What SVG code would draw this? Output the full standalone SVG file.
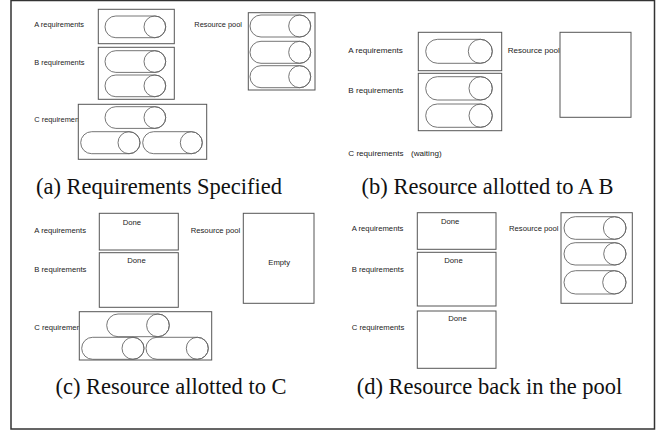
<svg xmlns="http://www.w3.org/2000/svg" width="665" height="431" viewBox="0 0 665 431">
<style>
.frame{fill:#fff;stroke:#333;stroke-width:1.5}
.box{fill:#fff;stroke:#555;stroke-width:1}
.cap{fill:none;stroke:#666;stroke-width:0.9}
.lbl{font-family:"Liberation Sans",Arial,sans-serif;fill:#222}
.cap-t{font-family:"Liberation Serif","Times New Roman",serif;font-size:22.5px;fill:#111;text-anchor:middle}
</style>
<rect x="0" y="0" width="665" height="431" fill="#fff"/>
<rect class="frame" x="11" y="0.5" width="643.5" height="428.5"/>

<!-- (a) -->
<g id="a-panel">
  <g class="lbl" font-size="7.4">
    <text x="34.3" y="27.3">A requirements</text>
    <text x="34.3" y="65">B requirements</text>
    <text x="34.3" y="122.3">C requirements</text>
    <text x="194.3" y="27.3">Resource pool</text>
  </g>
  <g id="a-A">
    <rect class="box" x="98.3" y="9.3" width="76" height="34.4"/>
    <rect class="cap" x="105" y="16" width="60.7" height="21.7" rx="10.85"/><circle class="cap" cx="154.85" cy="26.85" r="10.85"/>
  </g>
  <g id="a-B">
    <rect class="box" x="98.3" y="47.3" width="76" height="52"/>
    <rect class="cap" x="105" y="50.7" width="60.7" height="21.7" rx="10.85"/><circle class="cap" cx="154.85" cy="61.55" r="10.85"/>
    <rect class="cap" x="105" y="75" width="60.7" height="21.7" rx="10.85"/><circle class="cap" cx="154.85" cy="85.85" r="10.85"/>
  </g>
  <g id="a-pool">
    <rect class="box" x="248.3" y="12.7" width="66.7" height="77.3"/>
    <rect class="cap" x="250" y="15" width="60.7" height="22" rx="11"/><circle class="cap" cx="299.7" cy="26" r="11"/>
    <rect class="cap" x="250" y="41.3" width="60.7" height="22" rx="11"/><circle class="cap" cx="299.7" cy="52.3" r="11"/>
    <rect class="cap" x="250" y="65.7" width="60.7" height="22" rx="11"/><circle class="cap" cx="299.7" cy="76.7" r="11"/>
  </g>
  <g id="a-C">
    <rect class="box" x="78.3" y="104.3" width="128.4" height="55"/>
    <rect class="cap" x="105" y="106.7" width="60.7" height="21.7" rx="10.85"/><circle class="cap" cx="154.85" cy="117.55" r="10.85"/>
    <rect class="cap" x="80.7" y="131.7" width="59.3" height="22" rx="11"/><circle class="cap" cx="129" cy="142.7" r="11"/>
    <rect class="cap" x="142.7" y="131.7" width="59.6" height="22" rx="11"/><circle class="cap" cx="191.3" cy="142.7" r="11"/>
  </g>
  <text class="cap-t" x="159" y="193.5">(a) Requirements Specified</text>
</g>

<!-- (b) -->
<g id="b-panel">
  <g class="lbl" font-size="8.1">
    <text x="348.3" y="52.7">A requirements</text>
    <text x="348.3" y="93.3">B requirements</text>
    <text x="348.3" y="156">C requirements</text>
    <text x="411" y="156">(waiting)</text>
    <text x="507.7" y="52.7">Resource pool</text>
  </g>
  <g id="b-A">
    <rect class="box" x="418.3" y="32.3" width="83.4" height="38.4"/>
    <rect class="cap" x="425.7" y="39.3" width="66.6" height="24" rx="12"/><circle class="cap" cx="480.3" cy="51.3" r="12"/>
  </g>
  <g id="b-B">
    <rect class="box" x="418.3" y="73.3" width="83.4" height="57.4"/>
    <rect class="cap" x="425.7" y="76.7" width="66.6" height="23.3" rx="11.65"/><circle class="cap" cx="480.65" cy="88.35" r="11.65"/>
    <rect class="cap" x="425.7" y="104" width="66.6" height="23.3" rx="11.65"/><circle class="cap" cx="480.65" cy="115.65" r="11.65"/>
  </g>
  <g id="b-pool">
    <rect class="box" x="560" y="32.3" width="71" height="85"/>
  </g>
  <text class="cap-t" x="487.5" y="193.5">(b) Resource allotted to A B</text>
</g>

<!-- (c) -->
<g id="c-panel">
  <g class="lbl" font-size="7.7">
    <text x="34.3" y="232.7">A requirements</text>
    <text x="34.3" y="272">B requirements</text>
    <text x="34.3" y="330">C requirements</text>
    <text x="190.7" y="232.7">Resource pool</text>
  </g>
  <g id="c-A">
    <rect class="box" x="99.3" y="213.3" width="79" height="36.7"/>
    <text class="lbl" font-size="7.7" x="122.7" y="225.3">Done</text>
  </g>
  <g id="c-B">
    <rect class="box" x="99.3" y="252.7" width="79" height="54.6"/>
    <text class="lbl" font-size="7.7" x="127.3" y="263.3">Done</text>
  </g>
  <g id="c-pool">
    <rect class="box" x="243.3" y="213.3" width="70.7" height="90"/>
    <text class="lbl" font-size="7.7" x="268.3" y="265">Empty</text>
  </g>
  <g id="c-C">
    <rect class="box" x="79.3" y="311.7" width="132.4" height="48.3"/>
    <rect class="cap" x="106.7" y="314" width="62.6" height="22.7" rx="11.35"/><circle class="cap" cx="157.95" cy="325.35" r="11.35"/>
    <rect class="cap" x="81.7" y="337.3" width="62.3" height="22" rx="11"/><circle class="cap" cx="133" cy="348.3" r="11"/>
    <rect class="cap" x="146" y="337.3" width="62.3" height="22" rx="11"/><circle class="cap" cx="197.3" cy="348.3" r="11"/>
  </g>
  <text class="cap-t" x="171" y="393.5">(c) Resource allotted to C</text>
</g>

<!-- (d) -->
<g id="d-panel">
  <g class="lbl" font-size="7.7">
    <text x="351.7" y="230.7">A requirements</text>
    <text x="351.7" y="271.7">B requirements</text>
    <text x="351.7" y="330">C requirements</text>
    <text x="509" y="230.7">Resource pool</text>
  </g>
  <g id="d-A">
    <rect class="box" x="417.3" y="212.7" width="78.7" height="36.6"/>
    <text class="lbl" font-size="7.7" x="441" y="224">Done</text>
  </g>
  <g id="d-B">
    <rect class="box" x="417.3" y="252.3" width="78.7" height="53.7"/>
    <text class="lbl" font-size="7.7" x="444.3" y="262.7">Done</text>
  </g>
  <g id="d-C">
    <rect class="box" x="417.3" y="311" width="78.7" height="57.3"/>
    <text class="lbl" font-size="7.7" x="448.3" y="320.7">Done</text>
  </g>
  <g id="d-pool">
    <rect class="box" x="561" y="212.7" width="71.3" height="90.6"/>
    <rect class="cap" x="564" y="216.7" width="62" height="22.6" rx="11.3"/><circle class="cap" cx="614.7" cy="228" r="11.3"/>
    <rect class="cap" x="564" y="242.7" width="62" height="22.3" rx="11.15"/><circle class="cap" cx="614.85" cy="253.85" r="11.15"/>
    <rect class="cap" x="564" y="270.7" width="62" height="23.3" rx="11.65"/><circle class="cap" cx="614.35" cy="282.35" r="11.65"/>
  </g>
  <text class="cap-t" x="489.5" y="393.5">(d) Resource back in the pool</text>
</g>
<g id="connectors"/>
</svg>
